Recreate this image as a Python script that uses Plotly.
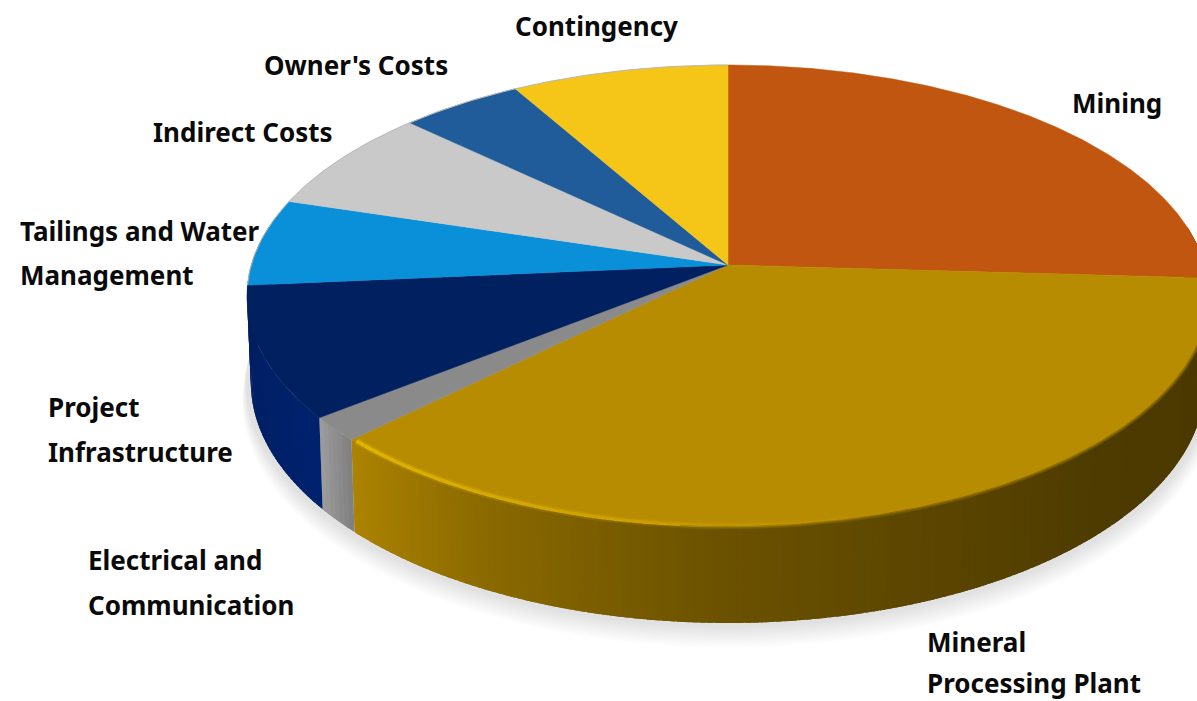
import numpy as np
import plotly.graph_objects as go

# Capital cost breakdown, percent of total
categories = ["Mining", "Mineral Processing Plant", "Electrical and Communication",
              "Project Infrastructure", "Tailings and Water Management",
              "Indirect Costs", "Owner's Costs", "Contingency"]
shares = [25.9, 36.8, 1.7, 9.2, 6.1, 7.3, 4.7, 8.3]

top_colors = ["#C0560F", "#B88C00", "#8A8A8A", "#002060", "#0A90D8", "#C9C9C9", "#1F5C99", "#F5C518"]

# Label lines and their left/centre anchors
label_lines = [
    ("Contingency", 515, 26), ("Owner's Costs", 264, 65), ("Mining", 1072, 103),
    ("Indirect Costs", 153, 132), ("Tailings and Water", 20, 231), ("Management", 20, 275),
    ("Project", 48, 407), ("Infrastructure", 48, 452), ("Electrical and", 88, 560),
    ("Communication", 88, 605), ("Mineral", 927, 642), ("Processing Plant", 927, 683),
]

# Perspective tilt of the disc
CX, CY = 728.0, 265.0
A, B, K = 476.7, 226.8, 0.134
DEPTH = 85.0
WALL_FROM, WALL_TO = 80.0, 280.0


def rim(theta, drop=0.0, scale=1.0):
    """Project angles (clockwise from 12 o'clock, radians) to the disc rim."""
    u, v = np.sin(theta), np.cos(theta)
    w = 1 + K * v
    return CX + scale * A * u / w, CY - scale * B * v / w + drop / w


def rgb(hex_color, f):
    r, g, b = (int(hex_color[i:i + 2], 16) for i in (1, 3, 5))
    return f"rgb({min(255, r * f):.0f},{min(255, g * f):.0f},{min(255, b * f):.0f})"


def side_shade(deg):
    # Light falls from the lower left, so the wall darkens towards the right
    return np.interp(deg, [95, 135, 160, 180, 205, 226], [0.40, 0.42, 0.50, 0.58, 0.74, 0.94])


fig = go.Figure()

edges = np.concatenate([[0], np.cumsum(shares) / np.sum(shares) * 360])

# Soft cast shadow beneath the wall
outer = np.radians(np.linspace(70, 290, 240))
for grow in range(20, 0, -2):
    sx, sy = rim(outer, DEPTH + grow * 0.85, 1 + grow * 0.0005)
    fig.add_trace(go.Scatter(x=sx, y=sy, mode="none", fill="toself",
                             fillcolor="rgba(80,80,80,0.02)", hoverinfo="skip", showlegend=False))

# Outer wall, drawn as overlapping facets so the shading can vary along it.
# The navy wall runs on to the silhouette, hiding whatever lies behind it.
wall_edges = [WALL_FROM, edges[1], edges[2], edges[3], WALL_TO]
wall_colors = [top_colors[0], top_colors[1], top_colors[2], "#002068"]
for i, color in enumerate(wall_colors):
    lo, hi = wall_edges[i], wall_edges[i + 1]
    steps = max(2, int((hi - lo) / 0.8))
    ts = np.linspace(lo, hi, steps + 1)
    for j in range(steps):
        a, b = ts[j], min(ts[j] + (hi - lo) / steps * 1.8, hi)
        th = np.radians(np.array([a, (a + b) / 2, b]))
        x1, y1 = rim(th)
        x2, y2 = rim(th[::-1], DEPTH, 0.992)
        mid = (ts[j] + ts[j + 1]) / 2
        if i == 2:
            f = np.interp(mid, [lo, hi], [0.92, 1.14])
        elif i == 3:
            f = np.interp(mid, [lo, lo + 25, hi], [1.05, 0.95, 0.9])
        else:
            f = float(side_shade(mid))
        fc = rgb(color, f)
        fig.add_trace(go.Scatter(x=np.r_[x1, x2, x1[0]], y=np.r_[y1, y2, y1[0]], mode="none",
                                 fill="toself", fillcolor=fc, hoverinfo="skip", showlegend=False))

# Slices on the top face
for i, (name, color) in enumerate(zip(categories, top_colors)):
    ts = np.radians(np.linspace(edges[i], edges[i + 1], max(3, int((edges[i + 1] - edges[i]) * 2))))
    x, y = rim(ts)
    fig.add_trace(go.Scatter(x=np.r_[CX, x, CX], y=np.r_[CY, y, CY], mode="lines", fill="toself",
                             fillcolor=color, line=dict(color=color, width=0.5), name=name,
                             text=f"{name}: {shares[i]}%", hoverinfo="text", showlegend=False))

# Faint grey edge along the back of the disc
ts = np.radians(np.linspace(edges[4], 360, 100))
x, y = rim(ts)
fig.add_trace(go.Scatter(x=x, y=y, mode="lines", line=dict(color="#B8B8B8", width=1),
                         hoverinfo="skip", showlegend=False))

# Soft blend between the top face and the wall on the shaded side
ts = np.radians(np.linspace(92, 185, 120))
x, y = rim(ts, 0.5)
fig.add_trace(go.Scatter(x=x, y=y, mode="lines", line=dict(color="rgba(125,95,0,0.7)", width=3),
                         hoverinfo="skip", showlegend=False))

# Bevel highlight along the front edge of the large slice, strongest at the left
segs = np.linspace(edges[2] - 0.6, 162, 50)
for width, color in [(7, "226,178,0"), (3.5, "240,200,0")]:
    for a, b in zip(segs[:-1], segs[1:]):
        x, y = rim(np.radians(np.array([a, b])), 0.0, 0.996)
        fade = (a - segs[-1]) / (segs[0] - segs[-1])
        alpha = fade * (0.28 if width > 5 else 0.6)
        fig.add_trace(go.Scatter(x=x, y=y, mode="lines",
                                 line=dict(color=f"rgba({color},{alpha:.3f})", width=width),
                                 hoverinfo="skip", showlegend=False))

annotations = [dict(x=lx, y=ly, text=f"<b>{txt}</b>", xref="x", yref="y", xanchor="left", yanchor="middle",
                    xshift=-2, showarrow=False, font=dict(family="Noto Sans", size=26, color="#0A0A0A"))
               for txt, lx, ly in label_lines]

fig.update_layout(
    width=1197, height=701, margin=dict(l=0, r=0, t=0, b=0),
    paper_bgcolor="white", plot_bgcolor="white", showlegend=False, annotations=annotations,
    xaxis=dict(range=[0, 1197], visible=False, fixedrange=True),
    yaxis=dict(range=[701, 0], visible=False, fixedrange=True),
)
fig.write_html("out.html")
